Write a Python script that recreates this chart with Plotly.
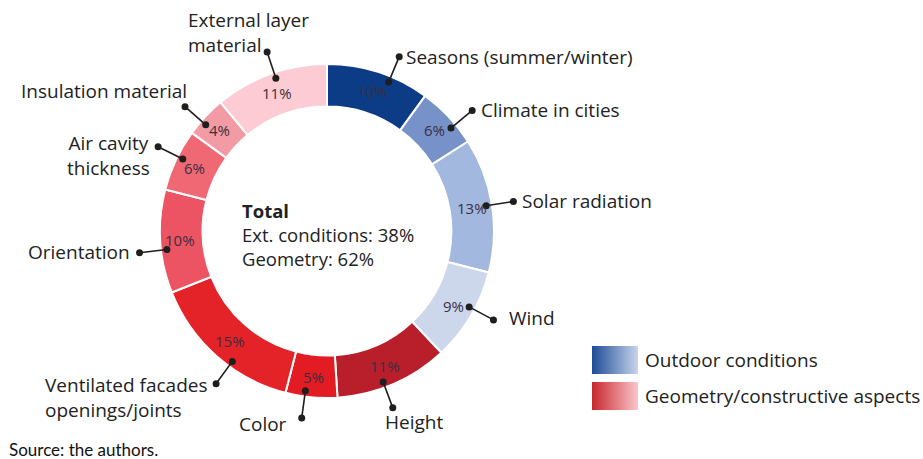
import math
import plotly.graph_objects as go

# ---- data ----
factors = ["Seasons (summer/winter)", "Climate in cities", "Solar radiation", "Wind",
           "Height", "Color", "Ventilated facades<br>openings/joints", "Orientation",
           "Air cavity<br>thickness", "Insulation material", "External layer<br>material"]
shares = [10, 6, 13, 9, 11, 5, 15, 10, 6, 4, 11]
groups = ["Outdoor conditions"] * 4 + ["Geometry/constructive aspects"] * 7
group_names = ["Outdoor conditions", "Geometry/constructive aspects"]

# ---- style ----
W, H = 923, 459
CX, CY, R = 327, 231, 167
HOLE = 0.745
seg_colors = ["#0b3c85", "#7692c8", "#a3b8de", "#ccd7ec",
              "#b81f2a", "#e31b23", "#e42329", "#ec5463", "#ef6874", "#f29ba4", "#fccbd3"]
grad_scales = [[[0, "#1d4b97"], [1, "#c8d5ec"]], [[0, "#c8262e"], [1, "#fac6cb"]]]
FONT = "Open Sans"
TXT = "#222222"
LFS = 19
LINE_C = "#1e1e1e"

# leader-line angle tweak (deg) and label placement (dx, dy, xanchor, yanchor, align)
angle_tweak = [4.5, 3.5, 0, -2.5, 3, 2.3, -5.4, -3, 1.3, -2, 1.3]
label_pos = [
    (5, 0, "left", "middle", "left"),
    (7, 0, "left", "middle", "left"),
    (7, 0, "left", "middle", "left"),
    (14, -2, "left", "middle", "left"),
    (21, -1, "center", "top", "center"),
    (-13, 6, "right", "middle", "left"),
    (-6, -14, "right", "top", "left"),
    (-8, -1, "right", "middle", "right"),
    (-6, 9, "right", "middle", "center"),
    (4, -16, "right", "middle", "left"),
    (-81, 8, "left", "bottom", "left"),
]

fig = go.Figure()

fig.add_trace(go.Pie(
    labels=factors, values=shares, sort=False, direction="clockwise", rotation=0,
    hole=HOLE, textinfo="none",
    marker=dict(colors=seg_colors, line=dict(color="white", width=2)),
    domain=dict(x=[(CX - R) / W, (CX + R) / W], y=[1 - (CY + R) / H, 1 - (CY - R) / H]),
    showlegend=False, hoverinfo="label+value",
))


def dot(x, y, d=7):
    return dict(type="circle", xref="x", yref="y", xsizemode="pixel", ysizemode="pixel",
                xanchor=x, yanchor=y, x0=-d / 2, x1=d / 2, y0=-d / 2, y1=d / 2,
                fillcolor=LINE_C, line=dict(width=0), layer="above")


total = sum(shares)
cum = 0
r_txt, r_in, r_out = 0.88 * R, 0.965 * R, 1.13 * R
for i, (name, v) in enumerate(zip(factors, shares)):
    mid = (cum + v / 2) / total * 2 * math.pi
    cum += v
    # percentage inside ring
    fig.add_annotation(x=CX + r_txt * math.sin(mid), y=CY - r_txt * math.cos(mid),
                       xref="x", yref="y", text=f"{v}%", showarrow=False,
                       font=dict(family=FONT, size=15, color="#3a2f40"))
    a = mid + math.radians(angle_tweak[i])
    sx, sy = math.sin(a), -math.cos(a)
    x0, y0 = CX + r_in * sx, CY + r_in * sy
    x1, y1 = CX + r_out * sx, CY + r_out * sy
    fig.add_shape(type="line", xref="x", yref="y", x0=x0, y0=y0, x1=x1, y1=y1,
                  line=dict(color=LINE_C, width=1.6), layer="above")
    fig.add_shape(**dot(x0, y0))
    fig.add_shape(**dot(x1, y1))
    dx, dy, xa, ya, al = label_pos[i]
    fig.add_annotation(x=x1 + dx, y=y1 + dy, xref="x", yref="y", text=name,
                       showarrow=False, xanchor=xa, yanchor=ya, align=al,
                       font=dict(family=FONT, size=LFS, color=TXT))

# centre summary
ext = sum(v for v, g in zip(shares, groups) if g == group_names[0])
geo = sum(v for v, g in zip(shares, groups) if g == group_names[1])
fig.add_annotation(x=240, y=234, xref="x", yref="y", xanchor="left", yanchor="middle", align="left",
                   showarrow=False,
                   text=f"<b>Total</b><br>Ext. conditions: {ext}%<br>Geometry: {geo}%",
                   font=dict(family=FONT, size=18.5, color=TXT))

# legend with gradient swatches
leg_y = [346, 382]
for gname, gs, y in zip(group_names, grad_scales, leg_y):
    fig.add_trace(go.Scatter(
        x=[592, 638, 638, 592, 592], y=[y, y, y + 28, y + 28, y], mode="lines",
        fill="toself", line=dict(width=0),
        fillgradient=dict(type="horizontal", colorscale=gs),
        showlegend=False, hoverinfo="skip"))
    fig.add_annotation(x=643, y=y + 14, xref="x", yref="y", xanchor="left", yanchor="middle",
                       showarrow=False, text=gname,
                       font=dict(family=FONT, size=LFS, color=TXT))

fig.add_annotation(x=7, y=449, xref="x", yref="y", xanchor="left", yanchor="middle",
                   showarrow=False, text="Source: the authors.",
                   font=dict(family="Lato", size=17, color="#111111"))

fig.update_layout(
    width=W, height=H, margin=dict(l=0, r=0, t=0, b=0),
    paper_bgcolor="white", plot_bgcolor="rgba(0,0,0,0)",
    xaxis=dict(range=[0, W], visible=False, fixedrange=True, domain=[0, 1]),
    yaxis=dict(range=[H, 0], visible=False, fixedrange=True, domain=[0, 1]),
)

fig.write_html("out.html")
